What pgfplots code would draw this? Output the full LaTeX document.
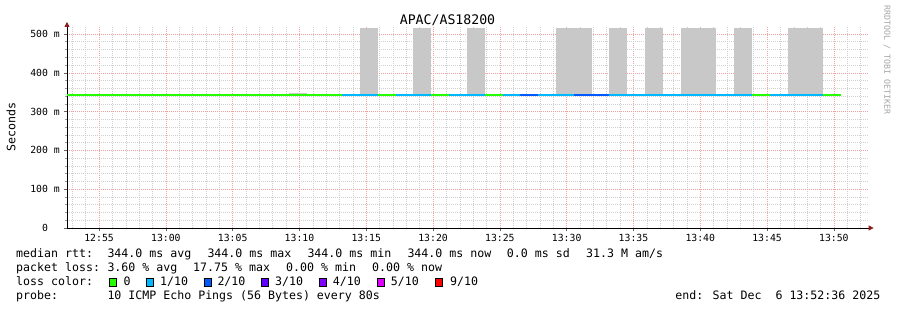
\documentclass[border=0pt]{standalone}
\usepackage{fontspec}
\setmainfont{DejaVu Sans Mono}
\usepackage{pgfplots}
\pgfplotsset{compat=1.18}
\usetikzlibrary{arrows.meta}
\definecolor{loss0}{HTML}{26FF00}
\definecolor{loss1}{HTML}{00B8FF}
\definecolor{loss2}{HTML}{0059FF}
\definecolor{loss3}{HTML}{5E00FF}
\definecolor{loss4}{HTML}{7E00FF}
\definecolor{loss5}{HTML}{DD00FF}
\definecolor{loss9}{HTML}{FF0000}
\definecolor{smoke}{HTML}{C8C8C8}
\definecolor{mgrid}{HTML}{F2A0A0}
\definecolor{ngrid}{HTML}{D0D0D0}
\definecolor{arrowred}{HTML}{8B1A1A}
\newcommand{\lbox}[1]{{\setlength{\fboxsep}{0pt}\setlength{\fboxrule}{0.8pt}\fcolorbox{black}{#1}{\rule{0pt}{7.4pt}\hspace{6.4pt}}}}
\newcommand{\tx}[3]{\node[anchor=base west, inner sep=0pt, font=\fontsize{11.6}{12}\selectfont] at (#1pt,#2pt) {#3};}
\begin{document}
\begin{tikzpicture}
\useasboundingbox (0pt,0pt) rectangle (897pt,310pt);
\begin{axis}[
  at={(67pt,82pt)}, anchor=south west, scale only axis,
  width=801.6pt, height=201pt,
  xmin=52.6, xmax=112.6, ymin=0, ymax=518,
  axis x line=bottom, axis y line=left,
  xtick={55,60,...,110},
  xticklabels={12:55,13:00,13:05,13:10,13:15,13:20,13:25,13:30,13:35,13:40,13:45,13:50},
  minor xtick={53,54,56,57,58,59,61,62,63,64,66,67,68,69,71,72,73,74,76,77,78,79,81,82,83,84,86,87,88,89,91,92,93,94,96,97,98,99,101,102,103,104,106,107,108,109,111,112},
  ytick={0,100,200,300,400,500},
  yticklabels={0\hphantom{~m},100~m,200~m,300~m,400~m,500~m},
  minor ytick={20,40,60,80,120,140,160,180,220,240,260,280,320,340,360,380,420,440,460,480,520},
  /pgf/number format/assume math mode=true,
  grid=both,
  major grid style={mgrid, line width=0.5pt, dash pattern=on 1pt off 1pt},
  minor grid style={ngrid, line width=0.5pt, dash pattern=on 1pt off 1pt},
  tick align=outside, major tick length=3pt, minor tick length=1.5pt,
  major tick style={black!60, line width=0.5pt},
  minor tick style={black!40, line width=0.5pt},
  axis line style={black, line width=0.8pt},
  x axis line style={-{Triangle[length=5pt,width=5pt,color=arrowred]}, shorten >=-5pt},
  y axis line style={-{Triangle[length=5pt,width=5pt,color=arrowred]}, shorten >=-5pt},
  xticklabel style={font=\fontsize{9.8}{10}\selectfont, anchor=base, inner sep=0pt, yshift=-10.7pt},
  yticklabel style={font=\fontsize{9.8}{10}\selectfont, anchor=east, inner sep=0pt, xshift=-4pt},
  unbounded coords=jump,
]
% smoke
\addplot[draw=none, fill=smoke] coordinates {(69.197,344)(69.197,349)(70.53,349)(70.53,344)};
\addplot[draw=none, fill=smoke] coordinates {(74.53,344)(74.53,516)(75.863,516)(75.863,344)};
\addplot[draw=none, fill=smoke] coordinates {(78.53,344)(78.53,516)(79.863,516)(79.863,344)};
\addplot[draw=none, fill=smoke] coordinates {(82.53,344)(82.53,516)(83.863,516)(83.863,344)};
\addplot[draw=none, fill=smoke] coordinates {(89.197,344)(89.197,516)(91.863,516)(91.863,344)};
\addplot[draw=none, fill=smoke] coordinates {(93.197,344)(93.197,516)(94.53,516)(94.53,344)};
\addplot[draw=none, fill=smoke] coordinates {(95.863,344)(95.863,516)(97.197,516)(97.197,344)};
\addplot[draw=none, fill=smoke] coordinates {(98.53,344)(98.53,516)(101.197,516)(101.197,344)};
\addplot[draw=none, fill=smoke] coordinates {(102.53,344)(102.53,516)(103.863,516)(103.863,344)};
\addplot[draw=none, fill=smoke] coordinates {(106.53,344)(106.53,516)(109.197,516)(109.197,344)};
% median line by loss
\addplot[loss0, line width=2pt] coordinates {(52.6,344)(73.197,344)(73.2,nan)(75.863,344)(77.197,344)(77.2,nan)(79.863,344)(81.197,344)(81.2,nan)(83.863,344)(85.197,344)(85.2,nan)(103.863,344)(105.197,344)(105.2,nan)(109.197,344)(110.53,344)};
\addplot[loss1, line width=2pt] coordinates {(73.197,344)(75.863,344)(75.9,nan)(77.197,344)(79.863,344)(79.9,nan)(81.197,344)(83.863,344)(83.9,nan)(85.197,344)(86.53,344)(86.6,nan)(87.863,344)(90.53,344)(90.6,nan)(93.197,344)(103.863,344)(103.9,nan)(105.197,344)(109.197,344)};
\addplot[loss2, line width=2pt] coordinates {(86.53,344)(87.863,344)(87.9,nan)(90.53,344)(93.197,344)};
\end{axis}
% title, labels
\node[anchor=base, inner sep=0pt, font=\fontsize{13.2}{14}\selectfont] at (447.5pt,285.7pt) {APAC/AS18200};
\node[rotate=90, inner sep=0pt, font=\fontsize{11.6}{12}\selectfont] at (11pt,183pt) {Seconds};
\node[rotate=-90, inner sep=0pt, text=black!35, font=\fontsize{8.3}{9}\selectfont] at (887pt,250pt) {RRDTOOL / TOBI OETIKER};
% legend text
\tx{16}{52.3}{median rtt:}
\tx{107.3}{52.3}{344.0 ms avg}
\tx{207.3}{52.3}{344.0 ms max}
\tx{307.3}{52.3}{344.0 ms min}
\tx{407.3}{52.3}{344.0 ms now}
\tx{506.7}{52.3}{0.0 ms sd}
\tx{586}{52.3}{31.3 M am/s}
\tx{16}{38.1}{packet loss:}
\tx{107.3}{38.1}{3.60 \% avg}
\tx{193}{38.1}{17.75 \% max}
\tx{286}{38.1}{0.00 \% min}
\tx{372}{38.1}{0.00 \% now}
\tx{16}{24}{loss color:}
\tx{108.3}{24}{\lbox{loss0}}
\tx{123.3}{24}{0}
\tx{145.7}{24}{\lbox{loss1}}
\tx{160}{24}{1/10}
\tx{203.3}{24}{\lbox{loss2}}
\tx{217.3}{24}{2/10}
\tx{261}{24}{\lbox{loss3}}
\tx{275}{24}{3/10}
\tx{318.3}{24}{\lbox{loss4}}
\tx{332.7}{24}{4/10}
\tx{376.7}{24}{\lbox{loss5}}
\tx{390.7}{24}{5/10}
\tx{435}{24}{\lbox{loss9}}
\tx{450}{24}{9/10}
\tx{16}{10}{probe:}
\tx{107.3}{10}{10 ICMP Echo Pings (56 Bytes) every 80s}
\node[anchor=base east, inner sep=0pt, font=\fontsize{11.6}{12}\selectfont] at (880.5pt,10pt) {end: Sat Dec~~6 13:52:36 2025};
\end{tikzpicture}
\end{document}
